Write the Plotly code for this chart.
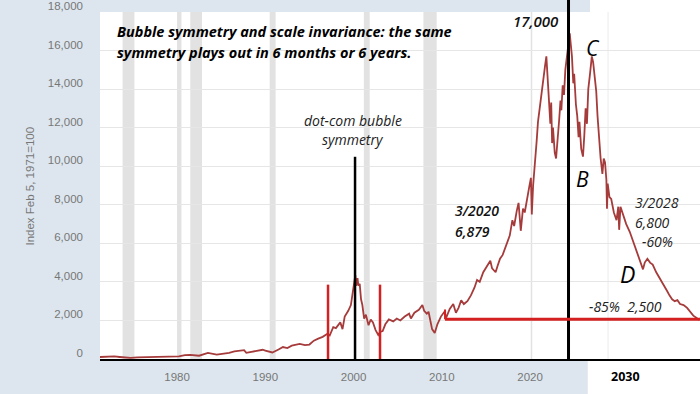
import plotly.graph_objects as go

# ---------------- data ----------------
years = [
    1971.1, 1971.5, 1972.0, 1972.9, 1973.5, 1974.0, 1974.75, 1975.5, 1976.0, 1976.9,
    1977.9, 1978.7, 1978.9, 1979.8, 1980.2, 1980.9, 1981.5, 1982.5, 1983.5, 1984.5,
    1985.0, 1985.9, 1986.5, 1987.6, 1987.85, 1988.5, 1989.7, 1990.0, 1990.8, 1991.5,
    1992.0, 1992.5, 1993.0, 1993.9, 1994.5, 1995.0, 1995.5, 1996.0, 1996.5, 1997.0,
    1997.3, 1997.7, 1998.0, 1998.5, 1998.75, 1999.0, 1999.4, 1999.7, 1999.95, 2000.1,
    2000.2, 2000.3, 2000.45, 2000.55, 2000.7, 2000.85, 2001.0, 2001.2, 2001.4, 2001.7,
    2001.95, 2002.2, 2002.5, 2002.8, 2003.0, 2003.3, 2003.6, 2004.0, 2004.5, 2004.9,
    2005.3, 2005.8, 2006.3, 2006.5, 2006.9, 2007.4, 2007.8, 2008.0, 2008.3, 2008.5,
    2008.75, 2008.9, 2009.2, 2009.5, 2009.9, 2010.3, 2010.5, 2010.9, 2011.3, 2011.6,
    2011.9, 2012.2, 2012.5, 2012.9, 2013.3, 2013.7, 2014.0, 2014.3, 2014.7, 2015.0,
    2015.5, 2015.7, 2016.1, 2016.3, 2016.6, 2016.9, 2017.3, 2017.7, 2018.0, 2018.2,
    2018.5, 2018.7, 2018.95, 2019.2, 2019.4, 2019.6, 2019.9, 2020.1, 2020.2, 2020.35,
    2020.6, 2020.75, 2020.9, 2021.1, 2021.3, 2021.5, 2021.7, 2021.85, 2021.95, 2022.1,
    2022.3, 2022.4, 2022.5, 2022.6, 2022.8, 2022.95, 2023.1, 2023.3, 2023.45, 2023.55,
    2023.7, 2023.85, 2024.0, 2024.2, 2024.35, 2024.5, 2024.6, 2024.75, 2024.9, 2025.0,
    2025.2, 2025.35, 2025.5, 2025.6, 2025.8, 2026.0, 2026.15, 2026.3, 2026.45, 2026.6,
    2026.8, 2027.0, 2027.15, 2027.3, 2027.5, 2027.65, 2027.85, 2028.0, 2028.2, 2028.35,
    2028.5, 2028.65, 2028.72, 2028.8, 2029.0, 2029.2, 2029.5, 2029.8, 2030.0, 2030.1,
    2030.25, 2030.5, 2030.9, 2031.3, 2031.7, 2032.1, 2032.5, 2032.8, 2033.0, 2033.3,
    2033.6, 2033.9, 2034.3, 2034.7, 2035.1, 2035.5, 2035.8, 2036.1, 2036.4, 2036.7,
    2037.0, 2037.4, 2037.8, 2038.1, 2038.5, 2038.8, 2039.1, 2039.3,
]
index_values = [
    100, 108, 115, 133, 105, 92, 55, 80, 85, 97,
    105, 130, 115, 140, 140, 205, 215, 170, 320, 230,
    250, 320, 400, 455, 320, 390, 480, 440, 340, 490,
    620, 570, 690, 780, 720, 750, 950, 1060, 1150, 1300,
    1220, 1650, 1600, 1900, 1550, 2200, 2500, 2800, 3500, 4000,
    4350, 3800, 4200, 3800, 3900, 3100, 2800, 2100, 2300, 1750,
    2050, 1900, 1500, 1250, 1400, 1450, 1800, 2050, 1950, 2100,
    2000, 2200, 2350, 2100, 2400, 2550, 2800, 2500, 2350, 2450,
    1900, 1550, 1350, 1800, 2200, 2450, 2150, 2600, 2850, 2400,
    2650, 3050, 2850, 3000, 3300, 3700, 4100, 4000, 4500, 4700,
    5100, 4700, 4500, 4800, 5200, 5400, 5900, 6400, 7200, 6900,
    7700, 8100, 6650, 7800, 7600, 8200, 8900, 9400, 7500, 9000,
    10800, 11300, 12300, 13100, 13700, 14500, 15200, 15700, 14900, 13800,
    12200, 13300, 11200, 12000, 10700, 10400, 11500, 12400, 13400, 12900,
    14200, 13700, 15000, 15900, 16300, 16900, 16400, 15700, 14300, 14800,
    13200, 12600, 11500, 12300, 10900, 10500, 11600, 13000, 12200, 14000,
    14800, 15700, 15400, 14600, 13900, 12600, 11200, 10400, 9600, 10400,
    10200, 9300, 7800, 9100, 8400, 8300, 7600, 7200, 7900, 6700,
    7900, 7500, 7000, 6600, 6100, 5500, 5100, 4650, 5000, 5200,
    5000, 4900, 4500, 4200, 3850, 3550, 3300, 3100, 3000, 3050,
    2850, 2800, 2650, 2450, 2250, 2150, 2050, 2100,
]

recessions = [(1973.83, 1975.17), (1980.0, 1980.5), (1981.5, 1982.83), (1990.5, 1991.17),
              (2001.17, 2001.83), (2007.92, 2009.42), (2020.08, 2020.25)]

x_ticks = [1980, 1990, 2000, 2010, 2020]
y_ticks = [0, 2000, 4000, 6000, 8000, 10000, 12000, 14000, 16000, 18000]

dotcom_peak_year = 2000.17
dotcom_line_top = 10490
dotcom_brackets = [1997.11, 2003.0]
dotcom_bracket_top = 3857
center_year = 2024.36
support_level = 2057
support_start = 2010.37
support_tick_top = 2570

X_RANGE = [1971.27, 2039.26]
Y_RANGE = [0, 18000]

LINE_COLOR = "#a63b3b"
PAPER_BG = "#dde6ee"

fig = go.Figure()
fig.add_trace(go.Scatter(x=years, y=index_values, mode="lines",
                         line=dict(color=LINE_COLOR, width=1.8), hoverinfo="skip"))

shapes = []
for a, b in recessions:
    shapes.append(dict(type="rect", xref="x", yref="paper", x0=a, x1=b, y0=0, y1=1,
                       fillcolor="#e2e2e2", line_width=0, layer="below"))
shapes.append(dict(type="line", xref="x", yref="paper", x0=2028.84, x1=2028.84, y0=0, y1=1,
                   line=dict(color="#ececec", width=1), layer="below"))
shapes.append(dict(type="rect", xref="paper", yref="paper", x0=0.8167, x1=1.0, y0=1.0, y1=1.05,
                   fillcolor="white", line_width=0, layer="below"))
shapes.append(dict(type="rect", xref="paper", yref="paper", x0=0.813, x1=1.0, y0=-0.12, y1=0.0,
                   fillcolor="white", line_width=0, layer="below"))
shapes.append(dict(type="line", xref="x", yref="y", x0=dotcom_peak_year, x1=dotcom_peak_year,
                   y0=0, y1=dotcom_line_top, line=dict(color="black", width=2.5)))
for bx in dotcom_brackets:
    shapes.append(dict(type="line", xref="x", yref="y", x0=bx, x1=bx, y0=0, y1=dotcom_bracket_top,
                       line=dict(color="#d42020", width=2.5)))
shapes.append(dict(type="line", xref="x", yref="paper", x0=center_year, x1=center_year,
                   y0=0, y1=1.05, line=dict(color="black", width=3)))
shapes.append(dict(type="line", xref="x", yref="y", x0=support_start, x1=X_RANGE[1],
                   y0=support_level, y1=support_level, line=dict(color="#d42020", width=3)))
shapes.append(dict(type="line", xref="x", yref="y", x0=support_start, x1=support_start,
                   y0=support_level, y1=support_tick_top, line=dict(color="#d42020", width=2)))

bold_it = dict(family="Open Sans", size=14.5, color="black", style="italic", weight=700)
semi_it = dict(family="Open Sans", size=14, color="#111", style="italic", weight=600)
plain_it = dict(family="Open Sans", size=14, color="#222", style="italic", weight=400)
big_it = dict(family="Open Sans", size=21, color="black", style="italic", weight=400)

anns = [
    dict(x=1972.97, y=16970, text="Bubble symmetry and scale invariance: the same", xanchor="left", font=bold_it),
    dict(x=1972.97, y=15890, text="symmetry plays out in 6 months or 6 years.", xanchor="left", font=bold_it),
    dict(x=1999.94, y=12395, text="dot-com bubble", xanchor="center", font=plain_it),
    dict(x=1999.94, y=11366, text="symmetry", xanchor="center", font=plain_it),
    dict(x=2020.68, y=17540, text="17,000", xanchor="center", font=dict(semi_it, size=15)),
    dict(x=2027.14, y=16150, text="C", xanchor="center", font=big_it),
    dict(x=2026.0, y=9360, text="B", xanchor="center", font=big_it),
    dict(x=2011.27, y=7680, text="3/2020", xanchor="left", font=semi_it),
    dict(x=2011.27, y=6640, text="6,879", xanchor="left", font=semi_it),
    dict(x=2031.67, y=8120, text="3/2028", xanchor="left", font=plain_it),
    dict(x=2031.67, y=7100, text="6,800", xanchor="left", font=plain_it),
    dict(x=2032.46, y=6110, text="-60%", xanchor="left", font=plain_it),
    dict(x=2031.0, y=4420, text="D", xanchor="center", font=dict(big_it, size=23)),
    dict(x=2026.46, y=2726, text="-85%  2,500", xanchor="left", font=plain_it),
]
for a in anns:
    a.update(xref="x", yref="y", showarrow=False, yanchor="middle")
anns.append(dict(xref="x", yref="paper", x=2030.8, y=-0.0514, text="2030", showarrow=False,
                 font=dict(family="Open Sans", size=12.5, color="black", weight=700), yanchor="middle"))
anns.append(dict(xref="paper", yref="paper", x=-0.13, y=0.497, text="Index Feb 5, 1971=100",
                 textangle=-90, showarrow=False, font=dict(family="Liberation Sans", size=11.5, color="#777")))

fig.update_layout(
    width=700, height=394,
    margin=dict(l=100, r=0, t=9, b=35),
    paper_bgcolor=PAPER_BG, plot_bgcolor="white",
    showlegend=False, shapes=shapes, annotations=anns,
    xaxis=dict(range=X_RANGE, tickvals=x_ticks, ticktext=[str(t) for t in x_ticks],
               showgrid=False, zeroline=False, showline=True, linecolor="black", linewidth=2,
               ticks="", tickfont=dict(family="Liberation Sans", size=11.5, color="#777"),
               ticklabelstandoff=6),
    yaxis=dict(range=Y_RANGE, tickvals=y_ticks, ticktext=[f"{v:,}" for v in y_ticks],
               showgrid=True, gridcolor="#e6e6e6", gridwidth=1, zeroline=False, showline=False,
               ticks="", ticklabelshift=-6, ticklabeloverflow="allow",
               tickfont=dict(family="Liberation Sans", size=11.5, color="#777"),
               ticklabelstandoff=16),
)

fig.write_html("out.html", config={"displayModeBar": False},
               post_script="document.body.style.margin='0';")
